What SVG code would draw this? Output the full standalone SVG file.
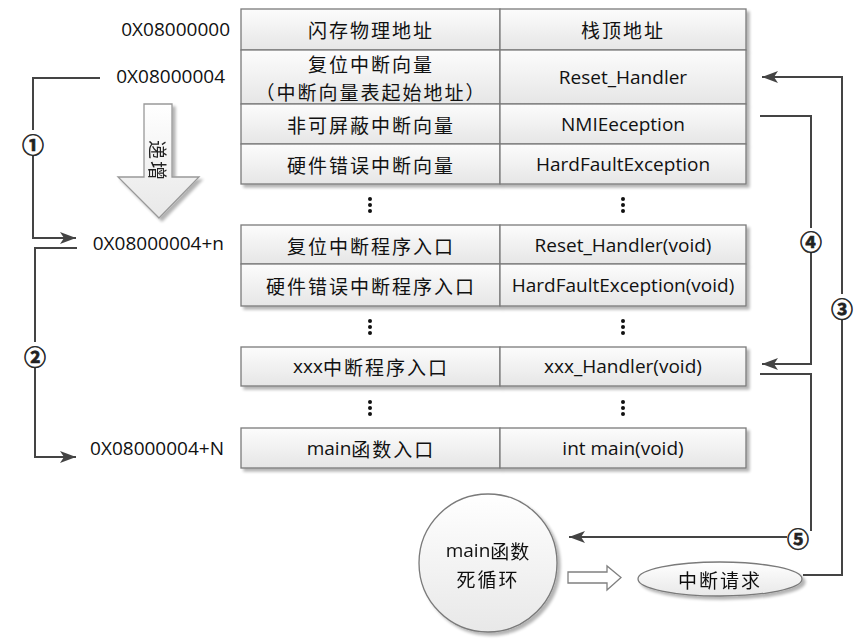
<svg xmlns="http://www.w3.org/2000/svg" width="865" height="639" viewBox="0 0 865 639">
<style>
.cell{fill:url(#cg);stroke:#7a7a7a;stroke-width:1.3}
.zh{font-family:"Noto Sans CJK SC","Noto Sans",sans-serif;font-size:19px;letter-spacing:2px;fill:#111;text-anchor:middle;dominant-baseline:central}
.en{font-family:"Open Sans","Liberation Sans",sans-serif;font-size:19px;fill:#111;text-anchor:middle;dominant-baseline:central}
.addr{font-family:"Open Sans","Liberation Sans",sans-serif;font-size:19px;fill:#111;text-anchor:end;dominant-baseline:central}
.num{font-family:"Noto Sans CJK SC","DejaVu Sans",sans-serif;font-size:22px;font-weight:bold;fill:#222;stroke:#222;stroke-width:0.6;text-anchor:middle;dominant-baseline:central}
.ln{fill:none;stroke:#444;stroke-width:2}
.dot{fill:#111}
</style>
<defs>
<linearGradient id="cg" x1="0" y1="0" x2="0" y2="1">
<stop offset="0" stop-color="#fcfcfc"/>
<stop offset="1" stop-color="#e6e6e6"/>
</linearGradient>
<linearGradient id="sg" x1="0" y1="0" x2="0" y2="1">
<stop offset="0" stop-color="#ffffff"/>
<stop offset="1" stop-color="#e8e8e8"/>
</linearGradient>
<filter id="sh" x="-10%" y="-10%" width="130%" height="130%">
<feGaussianBlur in="SourceAlpha" stdDeviation="1.5"/>
<feOffset dx="2.5" dy="2.5" result="b"/>
<feComponentTransfer><feFuncA type="linear" slope="0.3"/></feComponentTransfer>
<feMerge><feMergeNode/><feMergeNode in="SourceGraphic"/></feMerge>
</filter>
<marker id="ah" markerUnits="userSpaceOnUse" markerWidth="18" markerHeight="14" refX="16" refY="7" orient="auto">
<path d="M0,1 L16,7 L0,13 L4,7 z" fill="#444"/>
</marker>
</defs>

<g id="table" filter="url(#sh)">
<g id="row1"><rect class="cell" x="241" y="9" width="259" height="41"/><rect class="cell" x="500" y="9" width="246" height="41"/></g>
<g id="row2"><rect class="cell" x="241" y="50" width="259" height="54"/><rect class="cell" x="500" y="50" width="246" height="54"/></g>
<g id="row3"><rect class="cell" x="241" y="104" width="259" height="40"/><rect class="cell" x="500" y="104" width="246" height="40"/></g>
<g id="row4"><rect class="cell" x="241" y="144" width="259" height="40"/><rect class="cell" x="500" y="144" width="246" height="40"/></g>
<g id="row5"><rect class="cell" x="241" y="225" width="259" height="39"/><rect class="cell" x="500" y="225" width="246" height="39"/></g>
<g id="row6"><rect class="cell" x="241" y="264" width="259" height="42"/><rect class="cell" x="500" y="264" width="246" height="42"/></g>
<g id="row7"><rect class="cell" x="241" y="347" width="259" height="39"/><rect class="cell" x="500" y="347" width="246" height="39"/></g>
<g id="row8"><rect class="cell" x="241" y="428" width="259" height="40"/><rect class="cell" x="500" y="428" width="246" height="40"/></g>
</g>

<g id="table-text">
<text class="zh" x="371" y="29">闪存物理地址</text>
<text class="zh" x="371" y="63">复位中断向量</text>
<text class="zh" x="371" y="91">（中断向量表起始地址）</text>
<text class="zh" x="371" y="124">非可屏蔽中断向量</text>
<text class="zh" x="371" y="164">硬件错误中断向量</text>
<text class="zh" x="371" y="245">复位中断程序入口</text>
<text class="zh" x="371" y="285">硬件错误中断程序入口</text>
<text class="zh" x="371" y="366"><tspan style="font-family:'Open Sans',sans-serif;letter-spacing:0">xxx</tspan>中断程序入口</text>
<text class="zh" x="371" y="448"><tspan style="font-family:'Open Sans',sans-serif;letter-spacing:0">main</tspan>函数入口</text>
<text class="zh" x="623" y="29">栈顶地址</text>
<text class="en" x="623" y="77">Reset_Handler</text>
<text class="en" x="623" y="124">NMIEeception</text>
<text class="en" x="623" y="164">HardFaultException</text>
<text class="en" x="623" y="245">Reset_Handler(void)</text>
<text class="en" x="623" y="285">HardFaultException(void)</text>
<text class="en" x="623" y="366">xxx_Handler(void)</text>
<text class="en" x="623" y="448">int main(void)</text>
</g>

<g id="ellipsis">
<circle class="dot" cx="370" cy="199" r="2"/><circle class="dot" cx="370" cy="205" r="2"/><circle class="dot" cx="370" cy="211" r="2"/>
<circle class="dot" cx="623" cy="199" r="2"/><circle class="dot" cx="623" cy="205" r="2"/><circle class="dot" cx="623" cy="211" r="2"/>
<circle class="dot" cx="370" cy="321" r="2"/><circle class="dot" cx="370" cy="327" r="2"/><circle class="dot" cx="370" cy="333" r="2"/>
<circle class="dot" cx="623" cy="321" r="2"/><circle class="dot" cx="623" cy="327" r="2"/><circle class="dot" cx="623" cy="333" r="2"/>
<circle class="dot" cx="370" cy="402" r="2"/><circle class="dot" cx="370" cy="408" r="2"/><circle class="dot" cx="370" cy="414" r="2"/>
<circle class="dot" cx="623" cy="402" r="2"/><circle class="dot" cx="623" cy="408" r="2"/><circle class="dot" cx="623" cy="414" r="2"/>
</g>

<g id="addresses">
<text class="addr" x="230" y="29">0X08000000</text>
<text class="addr" x="225" y="76">0X08000004</text>
<text class="addr" x="224" y="243">0X08000004+n</text>
<text class="addr" x="224" y="448">0X08000004+N</text>
</g>

<g id="increase-arrow" filter="url(#sh)">
<path d="M144,104 L172,104 L172,177 L199,177 L159,218 L118,177 L144,177 Z" fill="url(#sg)" stroke="#999" stroke-width="1.3"/>
<text x="158" y="161" transform="rotate(90 158 161)" style="font-family:'Noto Sans CJK SC',sans-serif;font-size:19px;letter-spacing:2px;fill:#222;text-anchor:middle;dominant-baseline:central">递增</text>
</g>

<g id="main-loop" filter="url(#sh)">
<circle cx="488" cy="563" r="69" fill="url(#sg)" stroke="#7a7a7a" stroke-width="1.3"/>
<text class="zh" x="488" y="550" style="letter-spacing:1px"><tspan style="font-family:'Open Sans',sans-serif;letter-spacing:0">main</tspan>函数</text>
<text class="zh" x="488" y="578">死循环</text>
</g>

<g id="irq" filter="url(#sh)">
<ellipse cx="720" cy="579" rx="82" ry="17" fill="url(#sg)" stroke="#7a7a7a" stroke-width="1.3"/>
<text class="zh" x="720" y="579">中断请求</text>
</g>

<g id="connectors">
<path class="ln" d="M100,78 H33 V130"/>
<path class="ln" d="M33,156 V238 H76" marker-end="url(#ah)"/>
<path class="ln" d="M77,248 H35 V342"/>
<path class="ln" d="M35,368 V457 H76" marker-end="url(#ah)"/>
<path class="ln" d="M760,116 H811 V228"/>
<path class="ln" d="M811,252 V364 H762" marker-end="url(#ah)"/>
<path class="ln" d="M803,575 H842 V320"/>
<path class="ln" d="M842,294 V77 H762" marker-end="url(#ah)"/>
<path class="ln" d="M760,374 H811 V531"/>
<path class="ln" d="M787,537 H569" marker-end="url(#ah)"/>
<path d="M568,572 H607 V566 L621,577.5 L607,590 V583 H568 Z" fill="#fff" stroke="#808080" stroke-width="1.3"/>
<text class="num" x="33" y="143">①</text>
<text class="num" x="35" y="355">②</text>
<text class="num" x="842" y="307">③</text>
<text class="num" x="811" y="240">④</text>
<text class="num" x="798" y="537">⑤</text>
</g>
</svg>
